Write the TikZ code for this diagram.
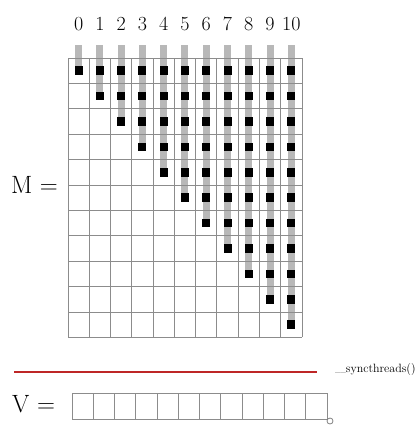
\documentclass[tikz,border=0pt]{standalone}
\begin{document}
\begin{tikzpicture}[x=1pt,y=-1pt,
  gridline/.style={draw=black!45,line width=0.8pt},
  bar/.style={fill=black!28},
  blk/.style={fill=black},
  lbl/.style={font=\fontsize{20}{24}\selectfont,inner sep=0pt,anchor=base},
  big/.style={font=\fontsize{25}{30}\selectfont,inner sep=0pt},
  redline/.style={draw=red!70!black!85,line width=1.6pt}]
\useasboundingbox (0,0) rectangle (417,426);
\def\gx{68}\def\gy{58}\def\dx{21.27}\def\dy{25.4}
% gray bars
\foreach \j in {0,...,10}{
  \pgfmathsetmacro{\cx}{\gx+\dx*(\j+0.5)}
  \pgfmathsetmacro{\by}{\gy+\dy*(\j+0.5)}
  \fill[bar] (\cx-3.5,45) rectangle (\cx+3.5,\by);
}
% grid
\foreach \i in {0,...,11}{
  \draw[gridline] (\gx+\dx*\i,\gy) -- (\gx+\dx*\i,\gy+11*\dy);
  \draw[gridline] (\gx,\gy+\dy*\i) -- (\gx+11*\dx,\gy+\dy*\i);
}
% black squares
\foreach \j in {0,...,10}{
  \foreach \r in {0,...,\j}{
    \pgfmathsetmacro{\cx}{\gx+\dx*(\j+0.5)}
    \pgfmathsetmacro{\cy}{\gy+\dy*(\r+0.5)}
    \fill[blk] (\cx-4,\cy-4.3) rectangle (\cx+4,\cy+4.3);
  }
}
% column labels
\foreach \j in {0,...,10}{
  \node[lbl] (c\j) at ({\gx+\dx*(\j+0.5)},30) {\j};
}
\node[big,anchor=west] (M) at (11,185) {M $=$};
% red line and syncthreads
\coordinate (ra) at (14,372);
\coordinate (rb) at (317,372);
\draw[redline] (ra) -- (rb);
\node[font=\fontsize{12}{14}\selectfont,anchor=west,inner sep=0pt] (sync) at (335,370) {{\fontsize{6}{7}\selectfont\_\_}syncthreads()};
% V array
\node[big,anchor=west] (V) at (12,404) {V $=$};
\foreach \i in {0,...,11}{
  \draw[gridline] (72+21.25*\i,393) rectangle (72+21.25*\i+21.25,419);
}
\draw[black!50,line width=0.8pt] (330,421) circle (3);
\end{tikzpicture}
\end{document}
